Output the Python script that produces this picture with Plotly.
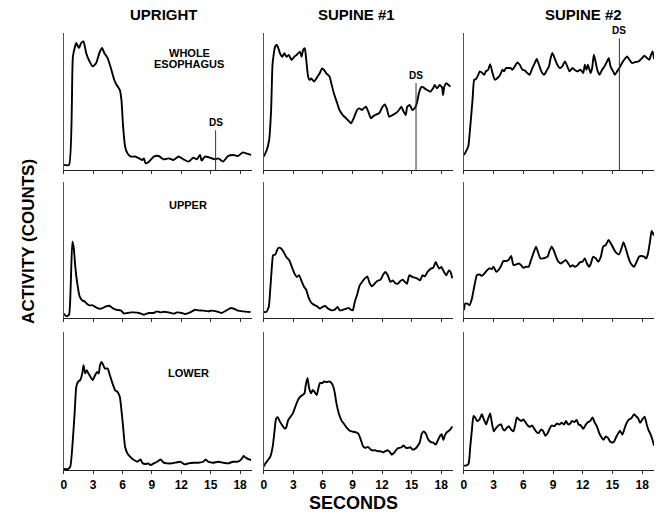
import plotly.graph_objects as go

W, H = 666, 515

# ---------------- data (time in seconds, activity in arbitrary counts 0-100) ----------------
upright_whole_t = [0, 0.54, 0.94, 1.28, 1.55, 1.78, 2.02, 2.29, 2.63, 2.96, 3.30, 3.64, 3.91, 4.14, 4.48, 4.81, 5.15, 5.39, 5.72, 5.89, 6.06, 6.26, 6.50, 6.84, 7.34, 8.01, 8.18, 8.35, 8.69, 9.19, 9.70, 10.20, 10.71, 11.21, 11.72, 12.22, 12.73, 13.23, 13.57, 13.91, 14.07, 14.41, 14.92, 15.42, 15.76, 16.26, 16.77, 17.27, 17.78, 18.28, 18.62, 19.12]
upright_whole_v = [3.7, 3.7, 82.9, 92.7, 89.0, 92.7, 93.9, 85.4, 79.3, 75.6, 78.0, 85.4, 89.0, 85.4, 81.7, 74.4, 65.9, 62.2, 58.5, 51.2, 31.7, 17.1, 12.2, 9.8, 9.8, 7.3, 8.5, 4.9, 6.1, 9.8, 10.2, 7.8, 8.5, 7.3, 9.8, 7.8, 6.1, 9.0, 7.8, 11.0, 6.8, 9.8, 9.0, 7.8, 8.5, 6.1, 10.2, 11.0, 10.2, 12.9, 12.2, 11.0]

supine1_whole_t = [0, 0.30, 0.54, 0.74, 0.87, 0.97, 1.14, 1.31, 1.48, 1.64, 1.88, 2.08, 2.32, 2.55, 2.82, 3.09, 3.32, 3.66, 3.83, 3.99, 4.16, 4.26, 4.50, 4.66, 4.83, 5.10, 5.34, 5.67, 5.91, 6.11, 6.34, 6.68, 6.85, 7.11, 7.45, 7.68, 8.02, 8.36, 8.69, 8.86, 9.19, 9.46, 9.70, 9.97, 10.13, 10.37, 10.60, 10.87, 11.04, 11.28, 11.71, 12.05, 12.28, 12.48, 12.72, 13.05, 13.39, 13.72, 13.96, 14.16, 14.40, 14.56, 14.83, 15.07, 15.30, 15.47, 15.57, 15.74, 15.91, 16.07, 16.31, 16.58, 16.91, 17.18, 17.35, 17.58, 17.85, 18.09, 18.19, 18.32, 18.52, 18.76, 18.93]
supine1_whole_v = [9.7, 14.6, 21.9, 43.8, 75.4, 82.7, 90.0, 91.2, 88.8, 85.2, 82.7, 85.2, 82.7, 83.9, 80.3, 82.7, 83.9, 86.4, 82.7, 87.6, 88.8, 83.9, 68.1, 65.7, 66.9, 64.5, 66.9, 70.6, 74.2, 73.0, 70.6, 68.1, 63.3, 56.0, 48.7, 43.8, 40.1, 37.7, 35.3, 34.1, 38.9, 43.8, 45.0, 43.8, 45.0, 46.2, 42.6, 37.7, 38.9, 40.1, 41.4, 46.2, 47.9, 45.0, 38.9, 40.1, 41.4, 43.8, 46.2, 43.1, 40.1, 46.2, 47.4, 43.8, 45.0, 47.4, 49.9, 56.0, 59.6, 60.8, 59.6, 58.4, 57.2, 59.6, 62.0, 59.6, 62.0, 60.3, 54.7, 60.8, 63.3, 62.0, 60.8]

supine2_whole_t = [0, 0.20, 0.44, 0.64, 0.87, 1.04, 1.21, 1.38, 1.61, 1.88, 2.05, 2.21, 2.45, 2.65, 2.89, 3.12, 3.39, 3.66, 3.89, 4.06, 4.23, 4.46, 4.73, 4.90, 5.13, 5.40, 5.64, 5.91, 6.14, 6.41, 6.64, 6.91, 7.15, 7.35, 7.58, 7.82, 8.09, 8.32, 8.59, 8.76, 8.93, 9.16, 9.43, 9.70, 9.93, 10.20, 10.44, 10.67, 10.94, 11.17, 11.44, 11.78, 12.05, 12.21, 12.38, 12.52, 12.79, 12.95, 13.12, 13.29, 13.46, 13.69, 13.96, 14.19, 14.46, 14.63, 14.80, 15.07, 15.23, 15.47, 15.70, 15.87, 16.07, 16.31, 16.48, 16.71, 16.98, 17.32, 17.65, 17.99, 18.22, 18.49, 18.72, 18.89, 19.06, 19.20]
supine2_whole_v = [11.0, 13.4, 17.1, 31.7, 51.2, 65.9, 66.3, 68.3, 72.0, 70.7, 69.5, 72.0, 73.2, 77.3, 70.7, 65.9, 67.1, 69.5, 73.2, 72.0, 74.4, 74.4, 74.4, 73.2, 75.6, 78.5, 76.8, 73.2, 72.7, 70.7, 69.5, 74.4, 78.0, 81.0, 76.8, 72.0, 69.5, 72.0, 75.6, 81.7, 85.4, 81.7, 76.8, 74.4, 75.6, 79.3, 75.6, 72.0, 74.4, 73.2, 72.0, 73.2, 70.7, 76.8, 73.2, 76.8, 70.7, 74.4, 84.1, 79.3, 73.2, 69.5, 73.2, 75.6, 79.3, 81.7, 75.6, 72.0, 69.5, 72.0, 74.4, 76.8, 79.3, 81.7, 82.9, 80.5, 78.0, 78.8, 79.3, 81.7, 83.4, 81.7, 80.5, 84.1, 86.6, 81.0]

upright_upper_t = [0, 0.27, 0.54, 0.71, 0.88, 1.01, 1.18, 1.38, 1.62, 1.89, 2.12, 2.36, 2.63, 2.96, 3.30, 3.64, 3.97, 4.31, 4.65, 4.98, 5.32, 5.82, 6.16, 6.50, 6.84, 7.17, 7.68, 8.18, 8.69, 9.19, 9.53, 9.87, 10.20, 10.71, 11.21, 11.55, 12.05, 12.39, 12.90, 13.40, 13.74, 14.24, 14.75, 15.08, 15.59, 16.09, 16.60, 17.04, 17.37, 17.78, 18.28, 19.06]
upright_upper_v = [3.2, 1.2, 2.4, 23.2, 56.1, 52.4, 37.8, 25.6, 15.9, 12.9, 12.2, 10.5, 9.3, 9.3, 7.8, 6.8, 7.3, 8.5, 9.0, 7.3, 6.1, 5.6, 3.2, 3.7, 4.1, 4.1, 3.7, 2.4, 3.7, 3.7, 4.9, 4.1, 4.6, 4.1, 3.2, 4.1, 3.7, 2.9, 4.1, 6.1, 5.6, 5.4, 4.9, 5.4, 4.9, 3.7, 5.6, 7.3, 6.8, 5.4, 4.9, 4.4]

supine1_upper_t = [0, 0.23, 0.50, 0.67, 0.84, 0.94, 1.17, 1.34, 1.51, 1.78, 2.01, 2.28, 2.58, 2.85, 3.12, 3.36, 3.59, 3.86, 4.09, 4.30, 4.53, 4.77, 5.03, 5.37, 5.70, 5.94, 6.21, 6.54, 6.88, 7.21, 7.48, 7.72, 8.05, 8.39, 8.62, 8.83, 9.03, 9.23, 9.50, 9.73, 9.97, 10.23, 10.50, 10.74, 10.97, 11.24, 11.51, 11.85, 12.08, 12.32, 12.58, 12.85, 13.09, 13.32, 13.59, 13.86, 14.09, 14.33, 14.53, 14.77, 15.10, 15.34, 15.60, 15.87, 16.11, 16.34, 16.61, 16.95, 17.21, 17.45, 17.62, 17.79, 18.02, 18.29, 18.52, 18.79, 18.96, 19.13]
supine1_upper_v = [4.4, 4.4, 8.1, 22.8, 40.0, 46.1, 46.6, 49.8, 51.7, 51.0, 48.5, 44.9, 42.4, 37.5, 32.6, 30.1, 31.4, 26.5, 22.8, 20.8, 15.4, 11.8, 10.0, 8.8, 6.9, 8.1, 8.8, 6.9, 5.6, 6.1, 8.1, 5.6, 6.1, 6.9, 7.4, 6.1, 5.6, 11.8, 17.9, 24.0, 26.5, 28.9, 30.6, 25.7, 23.3, 25.2, 27.2, 28.2, 31.4, 33.8, 31.4, 26.5, 27.7, 25.7, 25.2, 27.2, 28.2, 26.5, 25.2, 31.4, 30.1, 29.7, 28.9, 27.7, 31.4, 30.6, 33.8, 36.3, 37.0, 41.2, 38.7, 36.3, 37.5, 33.8, 31.4, 35.0, 33.8, 29.2]

supine2_upper_t = [0, 0.13, 0.34, 0.57, 0.81, 1.07, 1.31, 1.58, 1.81, 2.08, 2.35, 2.58, 2.82, 2.99, 3.26, 3.49, 3.76, 3.99, 4.26, 4.50, 4.77, 5.00, 5.27, 5.54, 5.77, 6.01, 6.28, 6.54, 6.78, 7.01, 7.28, 7.52, 7.72, 7.95, 8.22, 8.46, 8.62, 8.86, 9.06, 9.30, 9.53, 9.80, 10.03, 10.30, 10.54, 10.74, 10.97, 11.21, 11.48, 11.71, 11.98, 12.21, 12.42, 12.65, 12.82, 13.05, 13.32, 13.56, 13.83, 14.06, 14.33, 14.60, 14.83, 15.10, 15.34, 15.67, 15.91, 16.11, 16.34, 16.58, 16.85, 17.18, 17.45, 17.68, 17.92, 18.19, 18.42, 18.59, 18.79, 18.96, 19.19]
supine2_upper_v = [5.7, 10.6, 10.6, 9.4, 14.3, 24.1, 31.5, 32.0, 31.0, 32.8, 35.2, 36.5, 36.0, 37.7, 34.0, 35.2, 38.4, 41.9, 41.9, 42.6, 45.6, 38.9, 39.4, 40.1, 38.9, 36.9, 37.7, 37.7, 42.6, 47.5, 52.5, 47.5, 43.8, 43.8, 44.3, 45.1, 48.8, 52.5, 50.0, 45.1, 41.4, 40.1, 41.4, 42.6, 40.1, 37.7, 38.9, 37.7, 38.9, 40.9, 41.4, 43.8, 40.1, 37.7, 40.1, 45.1, 43.8, 41.4, 45.1, 52.5, 53.7, 57.4, 54.9, 51.2, 48.3, 46.8, 51.2, 55.7, 51.2, 45.1, 40.1, 37.7, 41.4, 45.1, 45.6, 45.1, 43.8, 47.5, 56.2, 64.0, 60.6]

upright_lower_t = [0, 0.44, 0.67, 0.88, 1.11, 1.28, 1.45, 1.68, 1.89, 2.02, 2.19, 2.36, 2.53, 2.73, 2.96, 3.20, 3.40, 3.57, 3.70, 3.87, 4.04, 4.21, 4.48, 4.71, 4.98, 5.25, 5.49, 5.72, 5.89, 6.06, 6.26, 6.50, 6.84, 7.17, 7.51, 7.85, 8.01, 8.35, 8.62, 8.86, 9.19, 9.53, 9.87, 10.20, 10.54, 11.04, 11.38, 11.89, 12.32, 12.73, 13.23, 13.74, 14.24, 14.48, 14.75, 15.25, 15.76, 16.26, 16.77, 17.27, 17.78, 18.11, 18.35, 18.52, 18.79, 19.12]
upright_lower_v = [0.7, 0.7, 2.4, 16.9, 41.0, 60.2, 63.9, 65.1, 69.9, 75.9, 69.9, 72.3, 69.9, 67.5, 65.1, 68.7, 71.1, 69.9, 75.9, 78.3, 75.9, 73.5, 73.5, 68.7, 62.7, 57.8, 56.6, 53.0, 43.4, 31.3, 16.9, 12.0, 9.2, 7.2, 6.0, 7.7, 5.3, 4.3, 4.8, 3.6, 4.8, 6.0, 7.7, 5.3, 4.8, 4.8, 5.3, 6.0, 4.1, 4.8, 5.3, 5.3, 6.0, 7.7, 6.0, 5.3, 6.0, 5.3, 4.8, 6.0, 6.0, 7.7, 10.1, 9.2, 8.0, 7.2]

supine1_lower_t = [0, 0.17, 0.44, 0.67, 0.91, 1.07, 1.24, 1.41, 1.58, 1.85, 2.11, 2.28, 2.45, 2.68, 2.92, 3.19, 3.46, 3.69, 3.93, 4.13, 4.26, 4.43, 4.60, 4.80, 4.97, 5.13, 5.37, 5.54, 5.70, 5.94, 6.14, 6.38, 6.61, 6.88, 7.05, 7.21, 7.38, 7.62, 7.89, 8.15, 8.39, 8.72, 9.06, 9.40, 9.63, 9.83, 10.07, 10.30, 10.57, 10.84, 11.07, 11.31, 11.58, 11.85, 12.08, 12.32, 12.58, 12.82, 12.99, 13.26, 13.52, 13.76, 13.99, 14.19, 14.43, 14.66, 14.87, 15.10, 15.34, 15.60, 15.84, 16.01, 16.21, 16.44, 16.68, 16.95, 17.21, 17.45, 17.68, 17.89, 18.05, 18.22, 18.36, 18.56, 18.79, 18.96, 19.13]
supine1_lower_v = [2.5, 4.9, 7.4, 9.9, 17.3, 27.2, 37.0, 38.3, 35.8, 32.6, 30.1, 30.9, 35.8, 38.3, 40.7, 45.7, 50.6, 53.1, 54.3, 55.6, 61.7, 66.7, 59.3, 55.6, 58.0, 56.8, 54.3, 59.3, 63.0, 63.0, 64.2, 63.7, 64.2, 63.0, 60.5, 55.6, 48.1, 40.7, 35.8, 33.3, 30.9, 28.4, 27.7, 27.2, 25.9, 22.2, 17.3, 16.0, 16.8, 14.8, 14.1, 14.3, 13.6, 13.6, 12.8, 13.6, 14.3, 12.8, 11.1, 12.8, 15.3, 16.0, 16.5, 17.8, 16.0, 16.0, 16.5, 14.8, 15.3, 17.3, 20.2, 25.9, 27.9, 26.4, 22.2, 20.2, 19.8, 18.5, 21.7, 24.7, 25.9, 21.7, 24.7, 27.2, 28.4, 29.6, 31.6]

supine2_lower_t = [0, 0.23, 0.47, 0.64, 0.81, 0.97, 1.14, 1.34, 1.58, 1.81, 2.01, 2.25, 2.42, 2.65, 2.82, 3.02, 3.26, 3.49, 3.76, 3.93, 4.09, 4.33, 4.53, 4.77, 5.00, 5.17, 5.34, 5.54, 5.77, 6.01, 6.21, 6.44, 6.68, 6.88, 7.11, 7.35, 7.55, 7.79, 8.02, 8.22, 8.46, 8.69, 8.89, 9.13, 9.40, 9.63, 9.87, 10.13, 10.30, 10.54, 10.74, 10.91, 11.14, 11.38, 11.58, 11.81, 12.05, 12.32, 12.55, 12.75, 12.99, 13.22, 13.42, 13.66, 13.89, 14.09, 14.33, 14.56, 14.77, 15.00, 15.17, 15.40, 15.60, 15.77, 16.01, 16.24, 16.44, 16.68, 16.91, 17.18, 17.35, 17.58, 17.79, 18.02, 18.25, 18.46, 18.62, 18.86, 19.09, 19.20]
supine2_lower_v = [3.2, 3.2, 4.5, 16.9, 29.3, 39.2, 38.0, 35.5, 36.7, 40.4, 36.7, 33.0, 36.7, 40.9, 34.2, 28.0, 30.5, 32.3, 33.0, 29.8, 28.5, 30.5, 31.8, 29.3, 28.0, 32.3, 38.0, 36.7, 35.5, 36.7, 34.7, 32.3, 31.3, 32.3, 29.8, 27.3, 26.8, 29.3, 28.0, 24.8, 26.8, 30.5, 32.3, 31.8, 33.7, 33.0, 34.2, 33.0, 35.5, 33.0, 33.7, 35.5, 34.7, 36.2, 33.0, 32.3, 29.8, 33.0, 34.7, 35.5, 38.0, 34.2, 31.8, 26.8, 23.8, 21.8, 24.3, 23.1, 20.6, 19.9, 20.6, 24.3, 26.8, 28.5, 25.6, 30.5, 34.2, 36.7, 37.5, 40.4, 39.2, 37.7, 34.2, 36.7, 38.7, 33.0, 29.3, 25.6, 20.6, 17.5]

column_titles = ["UPRIGHT", "SUPINE #1", "SUPINE #2"]
row_labels = [["WHOLE", "ESOPHAGUS"], ["UPPER"], ["LOWER"]]
tick_vals = [0, 3, 6, 9, 12, 15, 18]
tick_text = ["0", "3", "6", "9", "12", "15", "18"]
ds_time = [15.5, 15.45, 15.7]      # DS marker time per column (top row)
ds_top = [29, 63.5, 96]           # DS marker height per column (top row)

series = [
    [(upright_whole_t, upright_whole_v), (supine1_whole_t, supine1_whole_v), (supine2_whole_t, supine2_whole_v)],
    [(upright_upper_t, upright_upper_v), (supine1_upper_t, supine1_upper_v), (supine2_upper_t, supine2_upper_v)],
    [(upright_lower_t, upright_lower_v), (supine1_lower_t, supine1_lower_v), (supine2_lower_t, supine2_lower_v)],
]

# ---------------- layout geometry (pixels) ----------------
col_px = [(61, 250), (262, 452), (463, 654)]
row_px = [(33, 170), (182, 318), (332, 470)]
XR = [0, 19.2]
YR = [0, 100]
FONT = "Liberation Sans, Arial, sans-serif"

fig = go.Figure()
layout = dict(
    width=W, height=H, margin=dict(l=0, r=0, t=0, b=0),
    paper_bgcolor="white", plot_bgcolor="white", showlegend=False,
    font=dict(family=FONT, color="black"),
)
annotations = []
shapes = []

for r in range(3):
    for c in range(3):
        idx = r * 3 + c + 1
        xa = "xaxis" if idx == 1 else f"xaxis{idx}"
        ya = "yaxis" if idx == 1 else f"yaxis{idx}"
        xref = "x" if idx == 1 else f"x{idx}"
        yref = "y" if idx == 1 else f"y{idx}"
        x0, x1 = col_px[c]
        y0, y1 = row_px[r]
        layout[xa] = dict(
            domain=[x0 / W, x1 / W], range=XR, anchor=yref,
            showline=True, linecolor="#222", linewidth=1.3,
            showgrid=False, zeroline=False,
            ticks="outside", ticklen=3, tickwidth=1, tickcolor="#333",
            tickvals=tick_vals, ticktext=[f"<b>{s}</b>" for s in tick_text],
            showticklabels=(r == 2),
            tickfont=dict(family=FONT, size=12, color="black"),
            fixedrange=True,
        )
        layout[ya] = dict(
            domain=[1 - y1 / H, 1 - y0 / H], range=YR, anchor=xref,
            showline=True, linecolor="#555", linewidth=1,
            showgrid=False, zeroline=False, showticklabels=False, ticks="",
            fixedrange=True,
        )
        t, v = series[r][c]
        fig.add_trace(go.Scatter(
            x=t, y=v, mode="lines", xaxis=xref, yaxis=yref,
            line=dict(color="black", width=1.9, shape="spline", smoothing=0.5),
            hoverinfo="skip",
        ))
        if r == 0:
            shapes.append(dict(type="line", xref=xref, yref=yref,
                               x0=ds_time[c], x1=ds_time[c], y0=0, y1=ds_top[c],
                               line=dict(color="#333", width=1)))
            annotations.append(dict(xref=xref, yref=yref, x=ds_time[c], y=ds_top[c],
                                    text="<b>DS</b>", showarrow=False, yanchor="bottom",
                                    font=dict(family=FONT, size=10, color="black")))

# column titles
title_x = [162, 355, 583]
for c in range(3):
    annotations.append(dict(xref="paper", yref="paper", x=title_x[c] / W, y=1 - 15 / H,
                            text=f"<b>{column_titles[c]}</b>", showarrow=False,
                            xanchor="center", yanchor="middle",
                            font=dict(family=FONT, size=15, color="black")))

# panel labels (left column)
label_pos = [[(187, 53), (187, 64)], [(186, 205)], [(186, 373)]]
for r in range(3):
    for k, txt in enumerate(row_labels[r]):
        px, py = label_pos[r][k]
        annotations.append(dict(xref="paper", yref="paper", x=px / W, y=1 - py / H,
                                text=f"<b>{txt}</b>", showarrow=False,
                                xanchor="center", yanchor="middle",
                                font=dict(family=FONT, size=11, color="black")))

# axis titles
annotations.append(dict(xref="paper", yref="paper", x=352 / W, y=1 - 503 / H,
                        text="<b>SECONDS</b>", showarrow=False, xanchor="center", yanchor="middle",
                        font=dict(family=FONT, size=18, color="black")))
annotations.append(dict(xref="paper", yref="paper", x=25 / W, y=1 - 241 / H,
                        text="<b>ACTIVITY (COUNTS)</b>", showarrow=False, textangle=-90,
                        xanchor="center", yanchor="middle",
                        font=dict(family=FONT, size=17, color="black")))

layout["annotations"] = annotations
layout["shapes"] = shapes
fig.update_layout(**layout)
fig.write_html("out.html")
